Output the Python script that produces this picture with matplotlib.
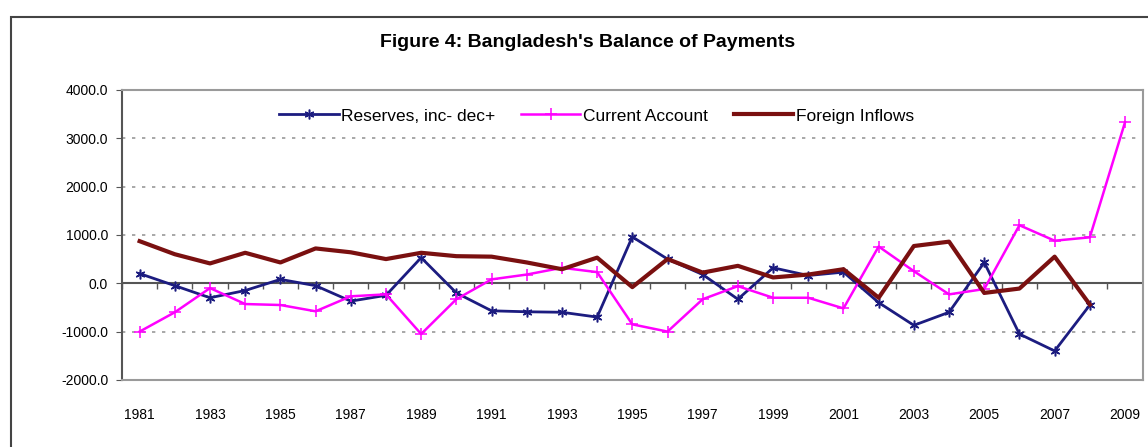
import numpy as np
import matplotlib
matplotlib.use("Agg")
import matplotlib.pyplot as plt
from matplotlib.patches import Rectangle

# values (US$ million)
years = list(range(1981, 2010))
reserves = [200, -50, -300, -150, 80, -50, -370, -250, 530, -200,
            -570, -590, -600, -700, 960, 500, 180, -330, 320, 160,
            230, -400, -870, -600, 430, -1050, -1400, -450, np.nan]
current_account = [-1000, -600, -100, -430, -450, -580, -270, -230, -1050, -330,
                   80, 180, 320, 230, -850, -1000, -330, -60, -300, -300,
                   -520, 760, 250, -230, -120, 1200, 880, 950, 3330]
foreign_inflows = [870, 600, 410, 630, 430, 720, 640, 500, 630, 560,
                   550, 430, 290, 530, -80, 500, 220, 360, 120, 180,
                   290, -300, 770, 860, -200, -110, 550, -440, np.nan]

plt.rcParams['font.family'] = ['Liberation Sans', 'DejaVu Sans']

fig = plt.figure(figsize=(11.48, 4.47), dpi=100)
ax = fig.add_axes([0.1063, 0.150, 0.889, 0.649])

x = np.arange(len(years))
ax.plot(x, reserves, color='#1c1c80', lw=2, marker=(6, 2, 0), ms=7, mew=1.1,
        label='Reserves, inc- dec+')
ax.plot(x, current_account, color='#ff00ff', lw=1.8, marker='+', ms=8, mew=1.1,
        label='Current Account')
ax.plot(x, foreign_inflows, color='#7a1010', lw=3,
        label='Foreign Inflows')

ax.set_xlim(-0.5, len(years) - 0.5)
ax.set_ylim(-2000, 4000)
ax.set_yticks(np.arange(-2000, 4001, 1000))
ax.set_yticklabels(['%.1f' % v for v in np.arange(-2000, 4001, 1000)], fontsize=10)
ax.set_xticks(x[::2])
ax.set_xticklabels([str(y) for y in years[::2]], fontsize=10)
ax.tick_params(axis='x', length=0, pad=20)
ax.tick_params(axis='y', length=4, color='#555555', pad=6)

for v in [-1000, 1000, 2000, 3000]:
    ax.axhline(v, color='#9a9a9a', lw=1.2, ls=(0, (2, 4)), zorder=0)
ax.axhline(0, color='#555555', lw=1.5, zorder=1)
# category ticks on the zero line
ax.plot(np.arange(len(years) + 1) - 0.5, np.zeros(len(years) + 1), ls='none',
        marker=3, ms=4, color='#555555', zorder=1)

for s in ax.spines.values():
    s.set_color('#9a9a9a')
    s.set_linewidth(1.5)
ax.spines['left'].set_color('#555555')

ax.legend(loc='center', bbox_to_anchor=(0.465, 0.91), ncol=3, frameon=False,
          fontsize=12.5, handlelength=3.4, handletextpad=0.15, columnspacing=1.5)

fig.text(0.512, 0.906, "Figure 4: Bangladesh's Balance of Payments",
         ha='center', va='center', fontsize=14, fontweight='bold')

fig.patches.append(Rectangle((0.010, -0.5), 1.5, 1.462, transform=fig.transFigure,
                             fill=False, edgecolor='#444444', lw=1.5))

fig.savefig('out.png', dpi=100)
